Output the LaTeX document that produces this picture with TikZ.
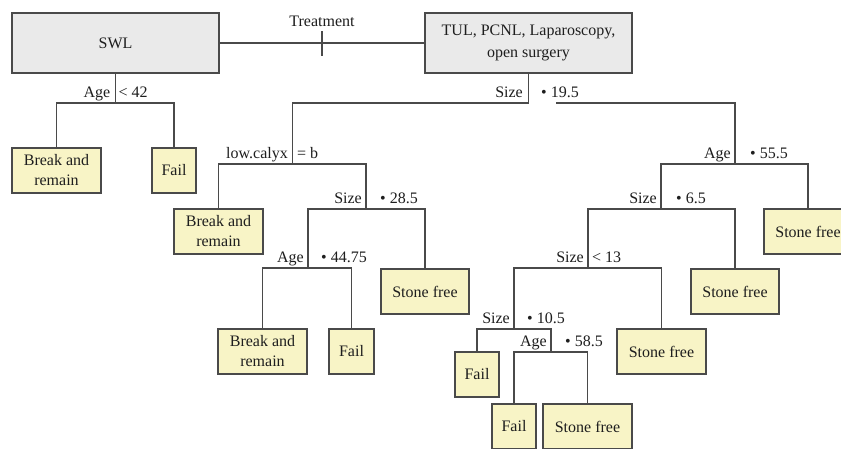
\documentclass[tikz,border=0pt]{standalone}
\usepackage{fontspec}
\setmainfont{Liberation Serif}
\newfontfamily\tnrfont{Liberation Serif}
\definecolor{leafyellow}{HTML}{F8F4C6}
\definecolor{rootgray}{HTML}{EAEAEA}
\definecolor{edgegray}{HTML}{4A4A4A}
\definecolor{inkgray}{HTML}{1E1E1E}
\begin{document}
\begin{tikzpicture}[x=1pt,y=-1pt,
  txt/.style={font=\tnrfont\fontsize{16}{20}\selectfont, text=inkgray},
  rootbox/.style={draw=edgegray, fill=rootgray, line width=1.1pt, minimum width=207pt, minimum height=60pt, align=center, inner sep=0pt, txt},
  leaf/.style={draw=edgegray, fill=leafyellow, line width=1.1pt, minimum height=45pt, align=center, inner sep=0pt, txt},
  conn/.style={draw=edgegray, line width=1.1pt},
  lab/.style={inner sep=0pt, txt}]
\useasboundingbox (0,0) rectangle (841,448);
\clip (0,0) rectangle (841,448);
\fill[white] (0,0) rectangle (841,448);

% split points
\coordinate (s0) at (115.5,103);
\coordinate (s1) at (528.5,103);
\coordinate (s1r) at (556,103);
\coordinate (x1) at (292.5,164);
\coordinate (s2) at (366,209);
\coordinate (a2) at (308,268);
\coordinate (a1) at (735,164);
\coordinate (s3) at (661,209);
\coordinate (s4) at (588,268);
\coordinate (s5) at (514,329);
\coordinate (a3) at (551,352);
\coordinate (tk1) at (322,31);
\coordinate (tk2) at (322,56);

% boxes
\node[rootbox] (swl) at (115.5,43) {SWL};
\node[rootbox, font=\tnrfont\fontsize{16}{22}\selectfont] (tul) at (528.5,43) {TUL, PCNL, Laparoscopy,\\open surgery};
\node[leaf, minimum width=89pt] (l1) at (56.5,170.5) {Break and\\remain};
\node[leaf, minimum width=44pt] (l2) at (174,170.5) {Fail};
\node[leaf, minimum width=89pt] (b1) at (218.5,231.5) {Break and\\remain};
\node[leaf, minimum width=88pt] (sf1) at (425,291.5) {Stone free};
\node[leaf, minimum width=89pt] (b2) at (262.5,351.5) {Break and\\remain};
\node[leaf, minimum width=45pt] (f2) at (351.5,351.5) {Fail};
\node[leaf, minimum width=88pt] (sfr) at (808,231.5) {Stone free};
\node[leaf, minimum width=88pt] (sf2) at (735,291.5) {Stone free};
\node[leaf, minimum width=89pt] (sf3) at (661.5,351.5) {Stone free};
\node[leaf, minimum width=44pt] (f3) at (477,374.5) {Fail};
\node[leaf, minimum width=44pt] (f4) at (514,426.5) {Fail};
\node[leaf, minimum width=89pt] (sf4) at (587.5,426.5) {Stone free};

% connectors
\draw[conn] (swl.east) -- (tul.west);
\draw[conn] (tk1) -- (tk2);
\draw[conn] (swl.south) -- (s0);
\draw[conn] (s0) -| (l1.north);
\draw[conn] (s0) -| (l2.north);
\draw[conn] (tul.south) -- (s1);
\draw[conn] (s1) -| (x1);
\draw[conn] (s1r) -| (a1);
\draw[conn] (x1) -| (b1.north);
\draw[conn] (x1) -| (s2);
\draw[conn] (s2) -| (a2);
\draw[conn] (s2) -| (sf1.north);
\draw[conn] (a2) -| (b2.north);
\draw[conn] (a2) -| (f2.north);
\draw[conn] (a1) -| (s3);
\draw[conn] (a1) -| (sfr.north);
\draw[conn] (s3) -| (s4);
\draw[conn] (s3) -| (sf2.north);
\draw[conn] (s4) -| (s5);
\draw[conn] (s4) -| (sf3.north);
\draw[conn] (s5) -| (f3.north);
\draw[conn] (s5) -| (a3);
\draw[conn] (a3) -| (f4.north);
\draw[conn] (a3) -| (sf4.north);

% labels
\node[lab, anchor=base] (treat) at (322,26) {Treatment};
\node[lab, anchor=base east] (s0l) at (110.5,97) {Age};
\node[lab, anchor=base west] (s0r) at (118.5,97) {< 42};
\node[lab, anchor=base east] (s1l) at (523,97) {Size};
\node[lab, anchor=base west] (s1rl) at (541,97) {• 19.5};
\node[lab, anchor=base east] (x1l) at (288,158) {low.calyx};
\node[lab, anchor=base west] (x1r) at (297,158) {= b};
\node[lab, anchor=base east] (s2l) at (362,203) {Size};
\node[lab, anchor=base west] (s2r) at (380,203) {• 28.5};
\node[lab, anchor=base east] (a2l) at (304,262) {Age};
\node[lab, anchor=base west] (a2r) at (321,262) {• 44.75};
\node[lab, anchor=base east] (a1l) at (731,158) {Age};
\node[lab, anchor=base west] (a1r) at (750,158) {• 55.5};
\node[lab, anchor=base east] (s3l) at (657,203) {Size};
\node[lab, anchor=base west] (s3r) at (676,203) {• 6.5};
\node[lab, anchor=base east] (s4l) at (584,262) {Size};
\node[lab, anchor=base west] (s4r) at (592,262) {< 13};
\node[lab, anchor=base east] (s5l) at (510,323) {Size};
\node[lab, anchor=base west] (s5r) at (527,323) {• 10.5};
\node[lab, anchor=base east] (a3l) at (547,346) {Age};
\node[lab, anchor=base west] (a3r) at (565,346) {• 58.5};
\end{tikzpicture}
\end{document}
